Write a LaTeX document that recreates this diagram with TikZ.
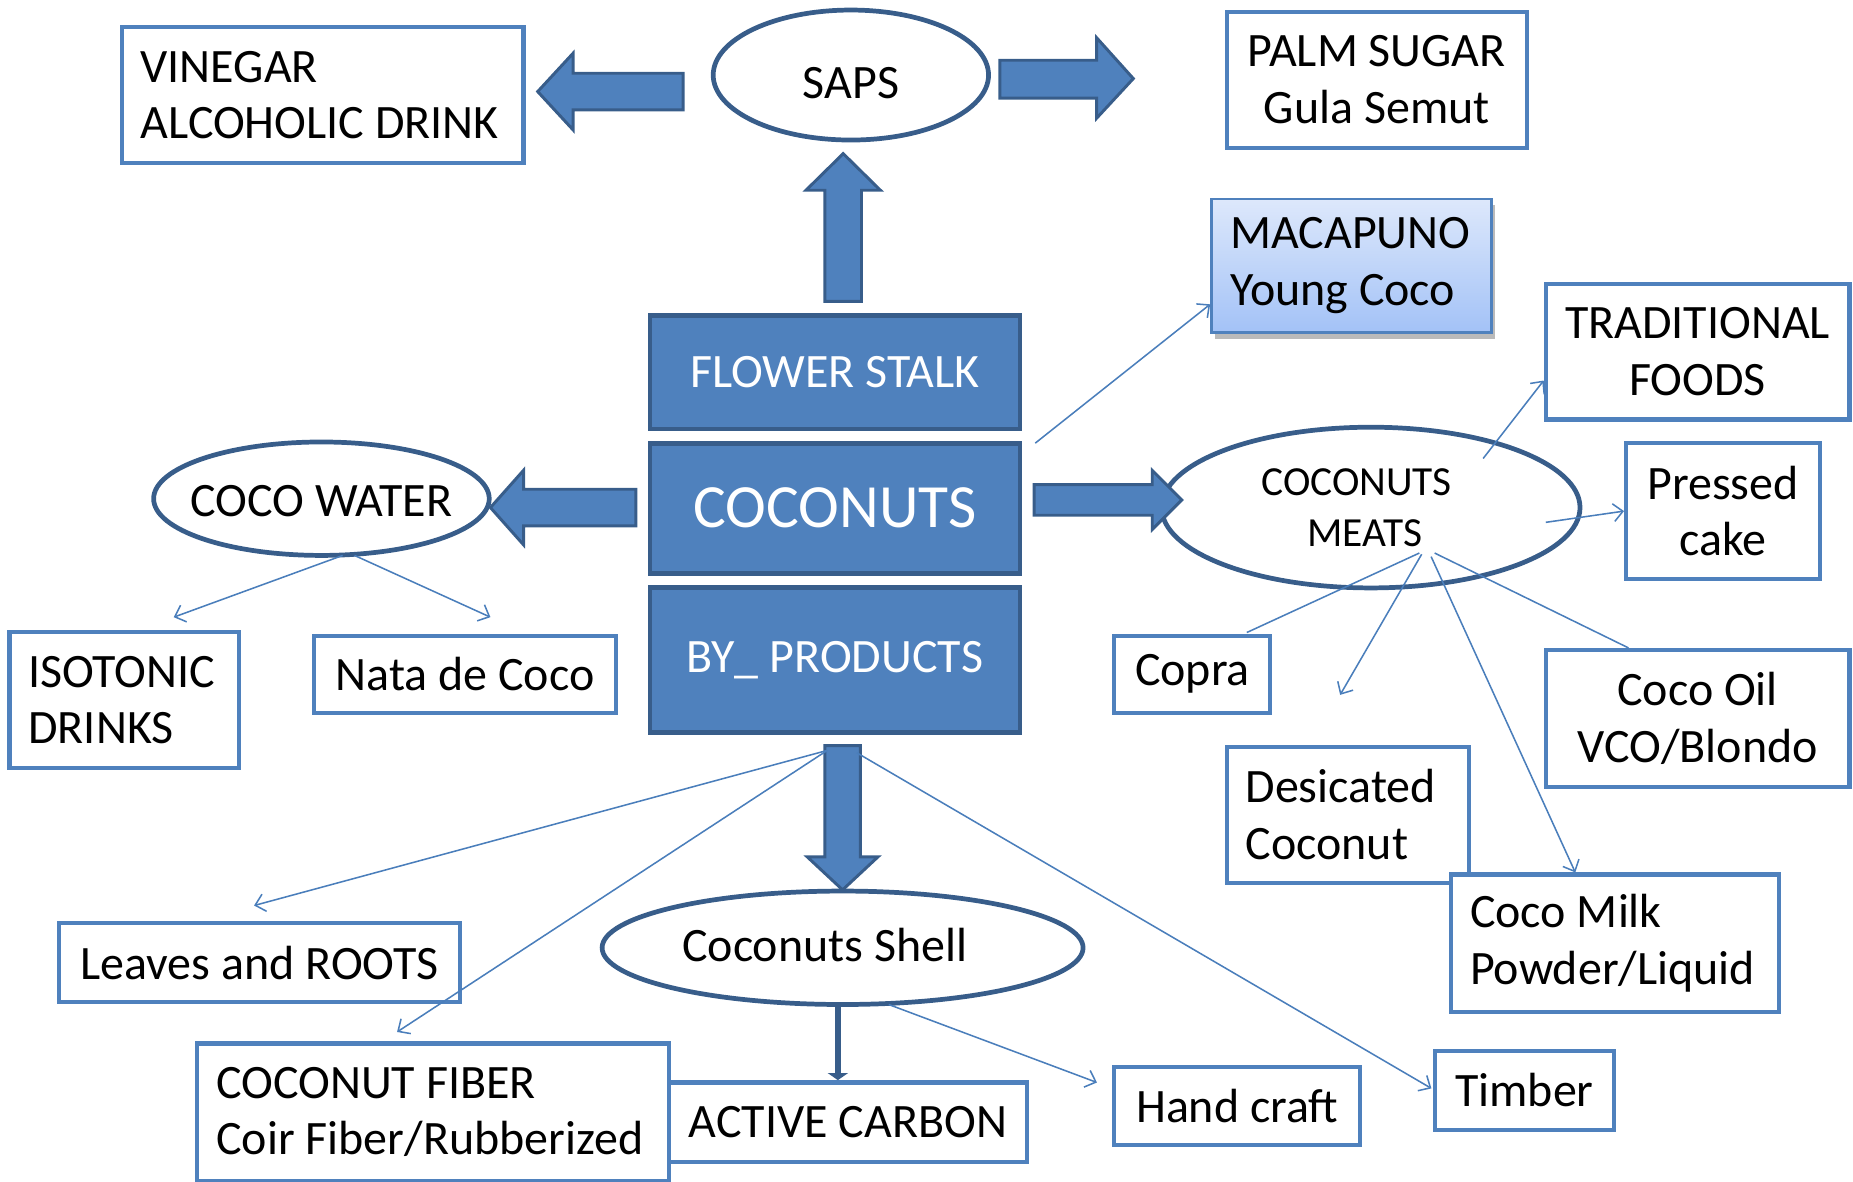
\documentclass[tikz,border=0pt]{standalone}
\usepackage{fontspec}
\setmainfont{Carlito}
\usetikzlibrary{shapes.geometric,arrows.meta,calc,shadows}
\definecolor{bfill}{HTML}{4F81BD}
\definecolor{bdark}{HTML}{385D8A}
\definecolor{bline}{HTML}{4A7EBB}
\definecolor{mactop}{HTML}{DDE8FB}
\definecolor{macbot}{HTML}{A3C2F7}
\newcommand{\fsnorm}{\fontsize{40.6}{48}\selectfont}
\newcommand{\fsbig}{\fontsize{52}{60}\selectfont}
\newcommand{\fsmeat}{\fontsize{35}{43}\selectfont}
\begin{document}
\begin{tikzpicture}[x=1pt,y=-1pt,
  every node/.style={font=\fsnorm},
  wbox/.style={draw=bfill, line width=3.5pt, fill=white, rectangle, inner sep=0pt, align=center},
  lbox/.style={draw=bfill, line width=3.5pt, fill=white, rectangle, inner ysep=0pt, inner xsep=16pt, align=flush left},
  fbox/.style={draw=bdark, line width=4pt, fill=bfill, rectangle, inner sep=0pt, text=white, align=center},
  oval/.style={draw=bdark, line width=4pt, fill=white, ellipse, inner sep=0pt, align=center},
  barrow/.style={fill=bfill, draw=bdark, line width=2.5pt, line join=miter},
  conn/.style={draw=bline, line width=1.3pt},
  tip/.style={-{Straight Barb[length=8pt,width=15pt,line width=1.3pt]}}
]
\useasboundingbox (0,0) rectangle (1568,1000);

% ---- boxes ----
\node[lbox, minimum height=115pt, text width=308pt] (vin) at (273,80.5) {VINEGAR\\ALCOHOLIC DRINK};
\node[wbox, minimum width=254pt, minimum height=115pt] (palm) at (1165,67.5) {PALM SUGAR\\Gula Semut};
\node[draw=bfill, line width=2pt, top color=mactop, bottom color=macbot, rectangle,
      inner ysep=0pt, inner xsep=16pt, align=flush left, minimum height=113pt, text width=205pt,
      drop shadow={shadow xshift=3pt, shadow yshift=-5pt, opacity=0.45, fill=black!60}] (mac) at (1143.5,225) {MACAPUNO\\Young Coco};
\node[wbox, minimum width=257pt, minimum height=115pt] (trad) at (1436.5,297.5) {TRADITIONAL\\FOODS};
\node[wbox, minimum width=164pt, minimum height=115pt] (pressed) at (1458,432.5) {Pressed\\cake};
\node[lbox, minimum height=115pt, text width=162pt] (iso) at (105,592.5) {ISOTONIC\\DRINKS};
\node[wbox, minimum width=255pt, minimum height=65pt] (nata) at (393.5,570.5) {Nata de Coco};
\node[wbox, minimum width=132pt, minimum height=65pt] (copra) at (1009,570.5) {\raisebox{-3pt}{Copra}};
\node[lbox, minimum height=115pt, text width=173pt] (desi) at (1140.5,689.5) {Desicated\\Coconut};
\node[wbox, minimum width=257pt, minimum height=116pt] (oil) at (1436.5,608) {Coco Oil\\VCO/Blondo};
\node[lbox, minimum height=116pt, text width=245pt] (milk) at (1366.5,798) {Coco Milk\\Powder/Liquid};
\node[wbox, minimum width=339pt, minimum height=67pt] (leaves) at (219.5,814.5) {Leaves and ROOTS};
\node[lbox, minimum height=116pt, text width=367pt] (fiber) at (366.5,941) {COCONUT FIBER\\Coir Fiber/Rubberized};
\node[wbox, minimum width=303pt, minimum height=67pt] (carbon) at (717.5,949.5) {ACTIVE CARBON};
\node[wbox, minimum width=208pt, minimum height=66pt] (hand) at (1047,936) {Hand craft};
\node[wbox, minimum width=152pt, minimum height=67pt] (timber) at (1290,922.5) {Timber};

% ---- central filled boxes ----
\node[fbox, minimum width=313pt, minimum height=96pt] (flower) at (706.5,315) {FLOWER STALK};
\node[fbox, minimum width=313pt, minimum height=110pt, font=\fsbig] (coco) at (706.5,430) {COCONUTS};
\node[fbox, minimum width=313pt, minimum height=123pt] (byp) at (706.5,558.5) {\raisebox{-3pt}{BY\_ PRODUCTS}};

% ---- ellipses ----
\node[oval, minimum width=233pt, minimum height=110pt] (saps) at (720,63.5) {\raisebox{-20pt}[0pt][0pt]{\makebox[0pt]{SAPS}}};
\node[oval, minimum width=354pt, minimum height=136pt, font=\fsmeat] (meats) at (1160,429.5) {COCONUTS\hspace*{24pt}\\MEATS\hspace*{10pt}};
\node[oval, minimum width=284pt, minimum height=96pt] (water) at (272,422) {\raisebox{-15pt}[0pt][0pt]{\makebox[0pt]{COCO WATER}}};
\node[oval, minimum width=407pt, minimum height=96pt] (shell) at (713,802) {\raisebox{-12pt}[0pt][0pt]{\makebox[0pt]{Coconuts Shell\hspace*{30pt}}}};

% ---- block arrows ----
\draw[barrow] (578,62) -- (485,62) -- (485,45) -- (455,77.5) -- (485,110) -- (485,93) -- (578,93) -- cycle;
\draw[barrow] (846,51) -- (928,51) -- (928,32) -- (959,66.5) -- (928,100) -- (928,83) -- (846,83) -- cycle;
\draw[barrow] (698,255) -- (698,161) -- (682,161) -- (713.5,130) -- (745,161) -- (729,161) -- (729,255) -- cycle;
\draw[barrow] (875,410) -- (975,410) -- (975,398) -- (1000,423) -- (975,448) -- (975,436) -- (875,436) -- cycle;
\draw[barrow] (538,414) -- (443,414) -- (443,398) -- (415,429.5) -- (443,461) -- (443,445) -- (538,445) -- cycle;
\draw[barrow] (698,631) -- (698,725) -- (683,725) -- (713,753) -- (743,725) -- (728,725) -- (728,631) -- cycle;

% ---- named free ends ----
\coordinate (mTrad) at (1255,388);
\coordinate (mPress) at (1308,442);
\coordinate (mA) at (1201,468);
\coordinate (mB) at (1203,469);
\coordinate (mC) at (1211,471);
\coordinate (mD) at (1214,468);
\coordinate (dEnd) at (1134,588);
\coordinate (wA) at (290,470);
\coordinate (wB) at (300,470);
\coordinate (bA) at (700,635);
\coordinate (bB) at (725,637);
\coordinate (sA) at (752,850);
\coordinate (cStart) at (876,375);
\coordinate (sB) at (709,849);
\coordinate (cTop) at (709,914);

% ---- thin connectors ----
\draw[conn,tip] (cStart) -- ($(mac.south west)+(0,-25)$);
\draw[conn,tip] (mTrad) -- ($(trad.west)+(0,24.5)$);
\draw[conn,tip] (mPress) -- (pressed.west);
\draw[conn,tip] (wA) -- ($(iso.north)+(42,-11)$);
\draw[conn,tip] (wB) -- ($(nata.north)+(21.5,-14)$);
\draw[conn] (mA) -- ($(copra.north)+(46,-1)$);
\draw[conn,tip] (mB) -- (dEnd);
\draw[conn,tip] (mC) -- ($(milk.north)+(-33.5,0)$);
\draw[conn] (mD) -- ($(oil.north)+(-58.5,0)$);
\draw[conn,tip] (bA) -- ($(leaves.north)+(-4.5,-13)$);
\draw[conn,tip] (bA) -- ($(fiber.north)+(-30.5,-8)$);
\draw[conn,tip] (bB) -- ($(timber.west)+(-1,-1.5)$);
\draw[conn,tip] (sA) -- ($(hand.west)+(-13,-20)$);
\draw[draw=bdark, line width=5pt, -{Triangle[length=6pt,width=17pt]}] (sB) -- (cTop);
\end{tikzpicture}
\end{document}
